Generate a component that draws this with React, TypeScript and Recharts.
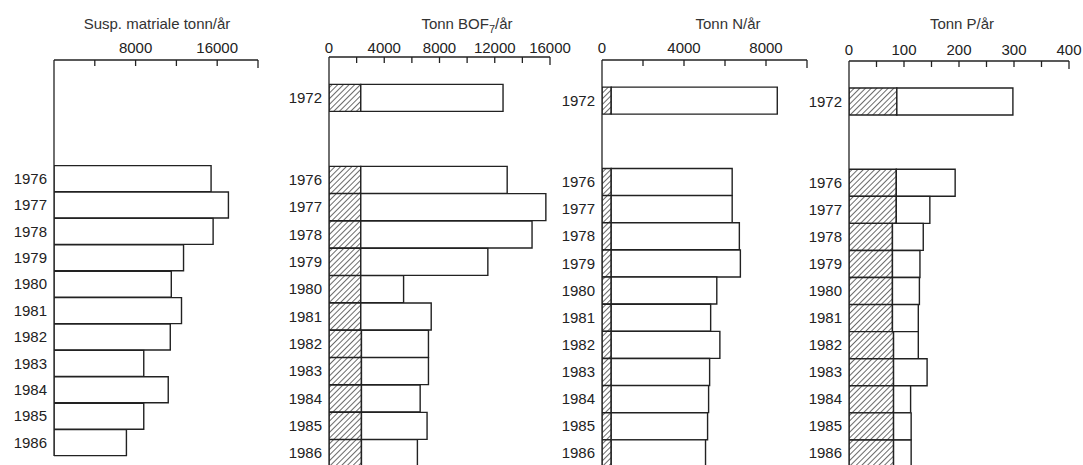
import React from 'react';
import { BarChart, Bar, XAxis, YAxis } from 'recharts';

// one row per band; empty strings are spacer bands in the original figure
const rowLabels = ['', '1972', '', '', '1976', '1977', '1978', '1979', '1980', '1981', '1982', '1983', '1984', '1985', '1986'];

const suspTotal = [null, null, null, null, 15400, 17100, 15600, 12700, 11500, 12500, 11400, 8800, 11200, 8800, 7100];

const bofHatch = [null, 2300, null, null, 2300, 2300, 2300, 2300, 2300, 2300, 2350, 2350, 2350, 2350, 2350];
const bofTotal = [null, 12600, null, null, 12900, 15700, 14700, 11500, 5400, 7400, 7200, 7200, 6600, 7100, 6400];

const nHatch = [null, 450, null, null, 450, 450, 450, 450, 450, 450, 450, 450, 450, 450, 450];
const nTotal = [null, 8550, null, null, 6350, 6350, 6700, 6750, 5600, 5300, 5750, 5250, 5200, 5150, 5050];

const pHatch = [null, 87, null, null, 86, 86, 79, 79, 79, 79, 81, 81, 81, 81, 81];
const pTotal = [null, 298, null, null, 193, 147, 135, 129, 128, 126, 126, 142, 112, 113, 113];

const suspTicks = [0, 4000, 8000, 12000, 16000, 20000];
const suspLabels = [8000, 16000];
const bofTicks = [0, 2000, 4000, 6000, 8000, 10000, 12000, 14000, 16000];
const bofLabels = [0, 4000, 8000, 12000, 16000];
const nTicks = [0, 2000, 4000, 6000, 8000, 10000];
const nLabels = [0, 4000, 8000];
const pTicks = [0, 50, 100, 150, 200, 250, 300, 350, 400];
const pLabels = [0, 100, 200, 300, 400];

const INK = '#222';
const FONT = '"Liberation Sans", Arial, Helvetica, sans-serif';

type Row = { key: string; label: string; hatch: number | null; rest: number | null };

function buildRows(total: (number | null)[], hatch?: (number | null)[]): Row[] {
  return rowLabels.map((label, i) => {
    const t = total[i];
    const h = hatch ? hatch[i] : null;
    return {
      key: `r${i}`,
      label: t == null ? '' : label,
      hatch: h,
      rest: t == null ? null : h != null ? t - h : t,
    };
  });
}

interface PanelProps {
  id: string;
  plotX: number;
  plotY: number;
  plotW: number;
  plotH: number;
  max: number;
  ticks: number[];
  labels: number[];
  rows: Row[];
  hatched: boolean;
  labelLift: number;
}

function Panel({ id, plotX, plotY, plotW, plotH, max, ticks, labels, rows, hatched, labelLift }: PanelProps) {
  const yAxisW = 60;
  const xAxisH = 20;
  const right = 30;
  const bottom = 6;

  const renderXTick = (p: any) => {
    const v = p.payload.value;
    const len = v === max ? 8 : 6;
    return (
      <g>
        {v !== 0 && <line x1={p.x} x2={p.x} y1={p.y} y2={p.y + len} stroke={INK} strokeWidth={1.3} />}
        {labels.includes(v) && (
          <text x={p.x} y={p.y - labelLift} textAnchor="middle" fontSize={15} fontFamily={FONT} fill={INK}>
            {v}
          </text>
        )}
      </g>
    );
  };

  const renderYTick = (p: any) => {
    const idx = Number(String(p.payload.value).slice(1));
    const label = rows[idx] ? rows[idx].label : '';
    return (
      <text x={p.x} y={p.y + 5} textAnchor="end" fontSize={15} fontFamily={FONT} fill={INK}>
        {label}
      </text>
    );
  };

  return (
    <div style={{ position: 'absolute', left: plotX - yAxisW, top: 0 }}>
      <BarChart
        width={yAxisW + plotW + right}
        height={plotY + plotH + bottom}
        data={rows}
        layout="vertical"
        barCategoryGap={0}
        margin={{ top: plotY - xAxisH, right, bottom, left: 0 }}
      >
        <defs>
          <pattern id={id} patternUnits="userSpaceOnUse" width={4} height={4} patternTransform="rotate(45)">
            <rect width={4} height={4} fill="#fff" />
            <line x1={0} y1={0} x2={0} y2={4} stroke="#1a1a1a" strokeWidth={1.3} />
          </pattern>
        </defs>
        <XAxis
          type="number"
          orientation="top"
          domain={[0, max]}
          ticks={ticks}
          interval={0}
          height={xAxisH}
          axisLine={{ stroke: INK, strokeWidth: 1.3 }}
          tickLine={false}
          tickSize={0}
          tickMargin={0}
          tick={renderXTick}
          allowDataOverflow
        />
        <YAxis
          type="category"
          dataKey="key"
          width={yAxisW}
          interval={0}
          axisLine={{ stroke: INK, strokeWidth: 1.3 }}
          tickLine={false}
          tickSize={0}
          tickMargin={7}
          tick={renderYTick}
        />
        {hatched && (
          <Bar dataKey="hatch" stackId="a" fill={`url(#${id})`} stroke={INK} strokeWidth={1.4} isAnimationActive={false} />
        )}
        <Bar dataKey="rest" stackId="a" fill="#fff" stroke={INK} strokeWidth={1.4} isAnimationActive={false} />
      </BarChart>
    </div>
  );
}

const Title = ({ cx, children }: { cx: number; children: React.ReactNode }) => (
  <div
    style={{
      position: 'absolute',
      left: cx - 100,
      top: 16,
      width: 200,
      textAlign: 'center',
      fontSize: 15,
      lineHeight: '15px',
      fontFamily: FONT,
      color: '#333',
      whiteSpace: 'nowrap',
    }}
  >
    {children}
  </div>
);

export default function App() {
  return (
    <div
      style={{
        position: 'fixed',
        left: 0,
        top: 0,
        width: 1083,
        height: 465,
        overflow: 'hidden',
        background: '#fff',
      }}
    >
      <Title cx={157}>Susp. matriale tonn/år</Title>
      <Title cx={467}>
        Tonn BOF<sub style={{ fontSize: 11, verticalAlign: -4 }}>7</sub>/år
      </Title>
      <Title cx={728}>Tonn N/år</Title>
      <Title cx={962}>Tonn P/år</Title>

      <Panel id="h1" plotX={54} plotY={60} plotW={204} plotH={396} max={20000}
        ticks={suspTicks} labels={suspLabels} rows={buildRows(suspTotal)} hatched={false} labelLift={7} />
      <Panel id="h2" plotX={329} plotY={57} plotW={221} plotH={410} max={16000}
        ticks={bofTicks} labels={bofLabels} rows={buildRows(bofTotal, bofHatch)} hatched labelLift={4} />
      <Panel id="h3" plotX={602} plotY={60} plotW={205} plotH={407} max={10000}
        ticks={nTicks} labels={nLabels} rows={buildRows(nTotal, nHatch)} hatched labelLift={7} />
      <Panel id="h4" plotX={849} plotY={61} plotW={220} plotH={406} max={400}
        ticks={pTicks} labels={pLabels} rows={buildRows(pTotal, pHatch)} hatched labelLift={6} />
    </div>
  );
}
